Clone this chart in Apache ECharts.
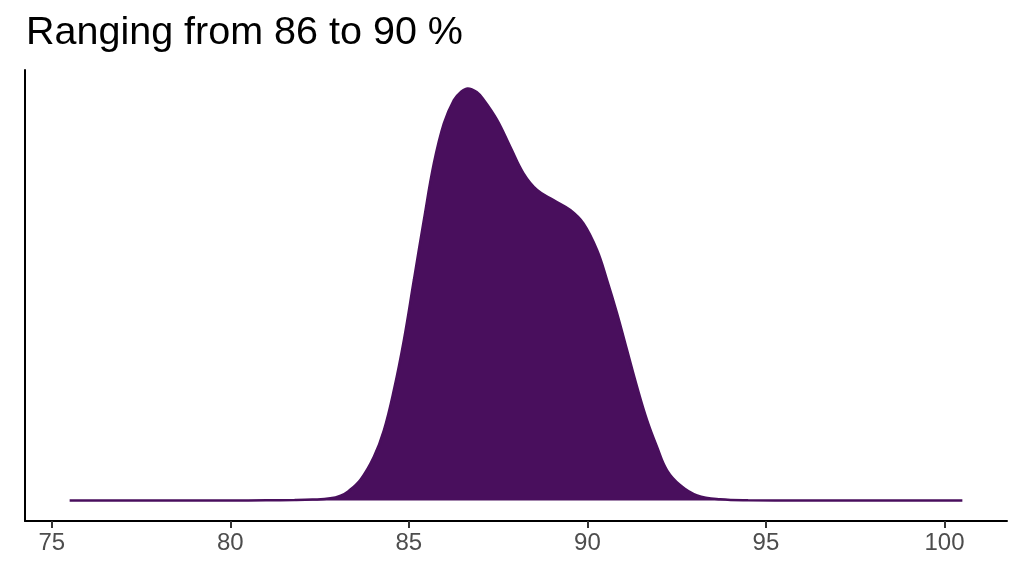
<!DOCTYPE html>
<html>
<head>
<meta charset="utf-8">
<script src="https://cdn.jsdelivr.net/npm/echarts@6/dist/echarts.min.js"></script>
<style>
  html, body { margin: 0; padding: 0; background: #fff; }
  #chart { width: 1024px; height: 576px; }
</style>
</head>
<body>
<div id="chart"></div>
<script>
// density estimate
const densX = [75.5, 78, 80, 81, 81.8, 82.3, 82.8, 83.09, 83.3, 83.65, 84.02, 84.3, 84.58, 84.86,
  85.14, 85.42, 85.7, 85.98, 86.26, 86.45, 86.65, 86.9, 87.1, 87.47, 87.84, 88.21, 88.59, 89.05,
  89.52, 89.89, 90.27, 90.55, 90.83, 91.11, 91.39, 91.67, 91.95, 92.23, 92.6, 93.07, 93.72,
  94.5, 96, 98, 100.5];
const densY = [0, 0, 0, 0.0001, 0.0002, 0.0004, 0.0009, 0.002, 0.0037, 0.0085, 0.0176, 0.0283, 0.0445, 0.0646,
  0.0888, 0.113, 0.1358, 0.1519, 0.1613, 0.1645, 0.166, 0.1645, 0.1613, 0.1533, 0.1425, 0.1318, 0.1251, 0.121,
  0.117, 0.1116, 0.1009, 0.0888, 0.0754, 0.0606, 0.0458, 0.0324, 0.0216, 0.0122, 0.0062, 0.0021, 0.0005,
  0.0001, 0, 0, 0];
const tickValues = [75, 80, 85, 90, 95, 100];
const titleText = 'Ranging from 86 to 90 %';

const chart = echarts.init(document.getElementById('chart'));

const option = {
  animation: false,
  title: {
    text: titleText,
    left: 21,
    top: 8,
    textStyle: {
      fontFamily: 'Liberation Sans',
      fontWeight: 'normal',
      fontSize: 39.5,
      color: '#000'
    }
  },
  grid: {
    left: 25,
    right: 17,
    top: 70,
    bottom: 55
  },
  xAxis: {
    type: 'value',
    min: 74.25,
    max: 101.75,
    splitLine: { show: false },
    axisLine: { onZero: false, lineStyle: { color: '#000', width: 2 } },
    axisTick: {
      length: 7,
      customValues: tickValues,
      lineStyle: { color: '#333', width: 2 }
    },
    axisLabel: {
      customValues: tickValues,
      margin: 10,
      fontFamily: 'Liberation Sans',
      fontSize: 24,
      color: '#4d4d4d'
    }
  },
  yAxis: {
    type: 'value',
    min: -0.00822,
    max: 0.1734,
    splitLine: { show: false },
    axisLine: { show: true, onZero: false, lineStyle: { color: '#000', width: 2 } },
    axisTick: { show: false },
    axisLabel: { show: false }
  },
  series: [{
    type: 'line',
    data: densX.map((x, i) => [x, densY[i]]),
    smooth: 0.4,
    symbol: 'none',
    lineStyle: { color: '#490f5d', width: 2.5 },
    areaStyle: { color: '#490f5d', opacity: 1, origin: 0 }
  }]
};

chart.setOption(option);
</script>
</body>
</html>
